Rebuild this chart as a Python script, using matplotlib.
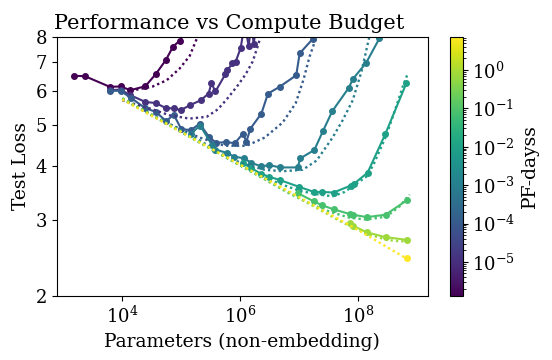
import matplotlib
matplotlib.use("Agg")
import matplotlib.pyplot as plt
import matplotlib.colors as mcolors
import matplotlib.cm as cm
from matplotlib.ticker import FixedLocator, NullLocator, FixedFormatter

plt.rcParams['font.family'] = 'serif'
plt.rcParams['font.serif'] = ['DejaVu Serif']
plt.rcParams['mathtext.fontset'] = 'dejavuserif'

# compute budget of each run (PF-days)
compute = [1.3e-6, 1.2e-5, 1.1e-4, 1.0e-3, 9e-3, 8e-2, 7.5e-1, 7.0]

# measured test loss vs parameter count, one run per budget
n1 = [1.51e3, 2.3e3, 6.1e3, 9.3e3, 1.37e4, 2.46e4, 3.69e4, 5.46e4, 7.26e4, 9.4e4, 1.7e5]
l1 = [6.50, 6.49, 6.13, 6.14, 6.02, 6.15, 6.56, 7.07, 7.60, 7.85, 8.8]

n2 = [6.1e3, 9.3e3, 1.37e4, 2.47e4, 3.69e4, 5.46e4, 7.5e4, 9.8e4, 1.43e5, 2.13e5, 2.91e5,
      3.26e5, 3.82e5, 5.6e5, 6.1e5, 7.4e5, 8.4e5, 1.02e6, 1.2e6, 1.4e6, 1.57e6, 1.7e6, 1.99e6]
l2 = [6.02, 6.04, 5.86, 5.65, 5.62, 5.47, 5.46, 5.41, 5.56, 5.70, 5.91,
      6.24, 5.98, 6.55, 6.70, 6.95, 7.01, 7.53, 8.6, 7.61, 8.7, 7.69, 9.0]

n3 = [6.11e3, 9.3e3, 1.39e4, 2.43e4, 3.69e4, 5.56e4, 7.46e4, 1.0e5, 1.45e5, 2.06e5, 2.99e5, 3.96e5,
      5.85e5, 8.1e5, 1.12e6, 1.28e6, 1.50e6, 2.30e6, 2.98e6, 4.70e6, 9.0e6, 1.03e7, 1.73e7]
l3 = [6.00, 6.00, 5.78, 5.47, 5.36, 5.10, 5.28, 4.89, 4.86, 5.03, 4.68, 4.54,
      4.56, 4.53, 4.77, 4.57, 4.90, 5.31, 5.91, 6.13, 6.52, 7.33, 7.93]

n4 = [1.45e5, 2.10e5, 3.30e5, 3.82e5, 6.04e5, 7.85e5, 1.16e6, 1.56e6, 2.30e6, 3.12e6, 4.80e6,
      9.5e6, 1.06e7, 1.83e7, 2.55e7, 3.69e7, 7.06e7, 8.26e7, 1.39e8, 2.34e8, 3.0e8]
l4 = [4.77, 4.98, 4.50, 4.38, 4.30, 4.22, 4.18, 4.08, 4.00, 4.03, 3.98,
      3.98, 4.18, 4.37, 4.83, 5.38, 6.10, 6.39, 6.97, 7.95, 8.8]

n5 = [1.13e6, 1.54e6, 2.24e6, 3.06e6, 4.76e6, 9.9e6, 1.81e7, 2.48e7, 3.88e7, 7.55e7, 8.5e7,
      1.47e8, 2.96e8, 6.67e8]
l5 = [4.07, 3.97, 3.85, 3.79, 3.72, 3.59, 3.49, 3.49, 3.48, 3.61, 3.64,
      3.87, 4.77, 6.24]

n6 = [9.5e6, 1.78e7, 2.48e7, 3.88e7, 7.4e7, 8.2e7, 1.44e8, 2.97e8, 6.87e8]
l6 = [3.47, 3.32, 3.25, 3.18, 3.10, 3.09, 3.05, 3.09, 3.34]

n7 = [7.4e7, 8.4e7, 1.44e8, 2.97e8, 6.87e8]
l7 = [2.95, 2.91, 2.81, 2.74, 2.70]

n8 = [6.87e8]
l8 = [2.45]

# fitted curves (dotted)
fn1 = [1.39e4, 3.28e4, 5.68e4, 9.4e4, 1.39e5, 1.91e5]
fl1 = [6.00, 6.14, 6.35, 6.76, 7.23, 8.03]

fn2 = [1e4, 2.92e4, 6.4e4, 1.39e5, 2.71e5, 4.17e5, 5.93e5, 9.1e5, 1.24e6, 1.64e6, 1.99e6, 2.24e6]
fl2 = [5.70, 5.46, 5.26, 5.17, 5.22, 5.43, 5.73, 6.17, 6.55, 7.02, 7.61, 8.03]

fn3 = [1e4, 4.32e4, 2.06e5, 5.48e5, 1.29e6, 2.62e6, 5.28e6, 8.8e6, 1.20e7, 1.52e7, 1.92e7]
fl3 = [5.74, 5.14, 4.67, 4.47, 4.47, 4.67, 5.06, 5.61, 6.38, 7.21, 7.90]

fn4 = [1e4, 2.06e5, 6.66e5, 1.46e6, 2.62e6, 5.28e6, 1.16e7, 2.0e7, 3.73e7, 5.52e7, 8.2e7,
       1.16e8, 1.47e8, 1.58e8]
fl4 = [5.75, 4.60, 4.17, 4.02, 3.93, 3.90, 3.93, 4.13, 4.67, 5.12, 5.70,
       6.66, 7.69, 8.03]

fn5 = [1e4, 6.66e5, 2.15e6, 4.70e6, 1.03e7, 2.24e7, 3.73e7, 5.97e7, 9.5e7, 1.41e8, 1.85e8,
       3.05e8, 4.51e8, 5.83e8, 7.1e8]
fl5 = [5.76, 4.15, 3.81, 3.65, 3.51, 3.44, 3.41, 3.49, 3.65, 3.79, 4.04,
       4.72, 5.52, 6.14, 6.59]

fn6 = [1e4, 6.95e6, 1.52e7, 3.32e7, 7.26e7, 1.41e8, 3.08e8, 5.13e8, 7.6e8]
fl6 = [5.76, 3.46, 3.28, 3.14, 3.04, 3.01, 3.06, 3.23, 3.44]

fn7 = [1e4, 4.91e7, 8.8e7, 1.58e8, 3.08e8, 5.13e8, 7.6e8]
fl7 = [5.76, 2.99, 2.87, 2.78, 2.70, 2.68, 2.68]

fn8 = [1e4, 1e5, 1e6, 1e7, 1e8, 7.2e8]
fl8 = [5.72, 4.81, 4.04, 3.40, 2.85, 2.43]

runs = [(n1, l1), (n2, l2), (n3, l3), (n4, l4), (n5, l5), (n6, l6), (n7, l7), (n8, l8)]
fits = [(fn1, fl1), (fn2, fl2), (fn3, fl3), (fn4, fl4), (fn5, fl5), (fn6, fl6), (fn7, fl7), (fn8, fl8)]

fig = plt.figure(figsize=(5.52, 3.6), dpi=100)
ax = fig.add_axes([0.103, 0.178, 0.672, 0.719])
cax = fig.add_axes([0.815, 0.178, 0.023, 0.719])

norm = mcolors.LogNorm(vmin=1.3e-6, vmax=7.2)
cmap = plt.get_cmap('viridis')

for c, (n, l) in zip(compute, runs):
    ax.plot(n, l, '-o', color=cmap(norm(c)), lw=1.5, ms=4)
for c, (n, l) in zip(compute, fits):
    ax.plot(n, l, color=cmap(norm(c)), lw=1.7, ls=(0, (1, 1.3)))

ax.set_xscale('log')
ax.set_yscale('log')
ax.set_xlim(7.7e2, 1.55e9)
ax.set_ylim(2, 8)
ax.xaxis.set_major_locator(FixedLocator([1e4, 1e6, 1e8]))
ax.xaxis.set_minor_locator(NullLocator())
ax.yaxis.set_major_locator(FixedLocator([2, 3, 4, 5, 6, 7, 8]))
ax.yaxis.set_major_formatter(FixedFormatter(['2', '3', '4', '5', '6', '7', '8']))
ax.yaxis.set_minor_locator(NullLocator())
ax.tick_params(labelsize=13)

ax.set_xlabel('Parameters (non-embedding)', fontsize=13.5)
ax.set_ylabel('Test Loss', fontsize=13.5)
ax.set_title('Performance vs Compute Budget', fontsize=15, x=0.465)

sm = cm.ScalarMappable(norm=norm, cmap=cmap)
cb = fig.colorbar(sm, cax=cax)
cb.ax.tick_params(labelsize=13)
cb.set_label('PF-dayss', fontsize=13.5)

fig.savefig('out.png', dpi=100)
